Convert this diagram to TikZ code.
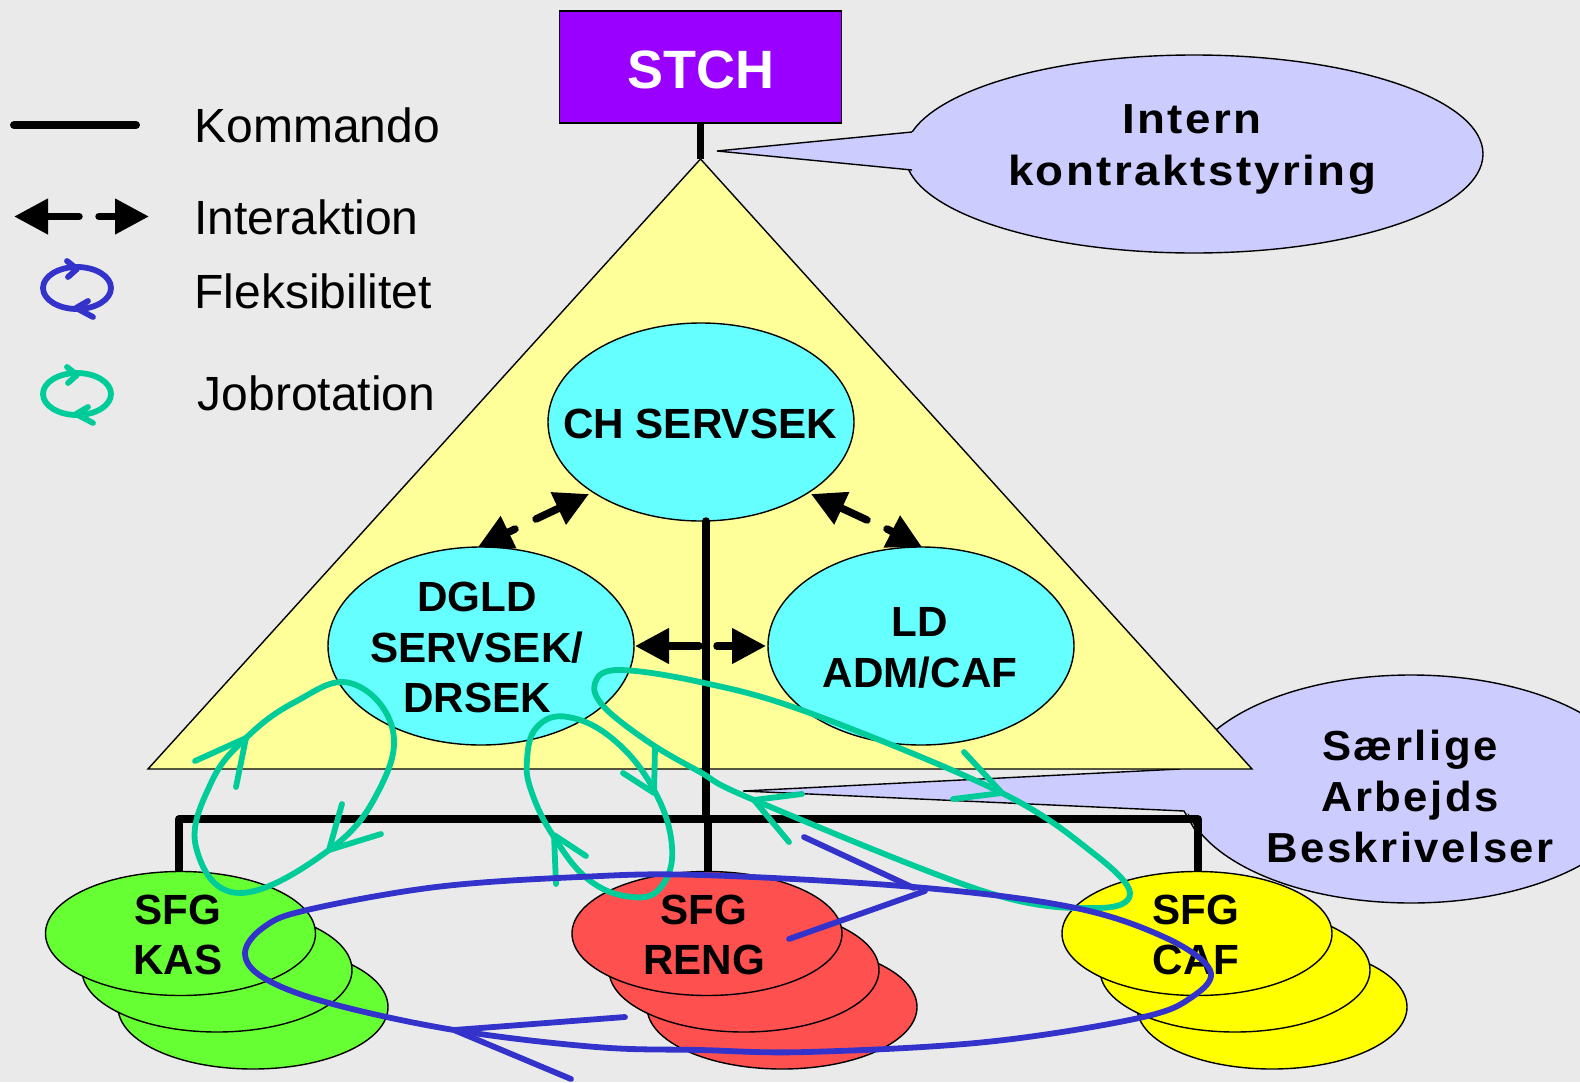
\documentclass[tikz,border=0pt]{standalone}
\usepackage{fontspec}
\setmainfont{Liberation Sans}
\newfontfamily\callfonta[LetterSpace=6,FakeStretch=1.088]{Liberation Sans}
\newfontfamily\callfontb[LetterSpace=6,FakeStretch=1.04]{Liberation Sans}
\usetikzlibrary{shapes.geometric,arrows.meta}
\definecolor{bgc}{HTML}{EAEAEA}
\definecolor{triy}{HTML}{FFFF99}
\definecolor{cyanc}{HTML}{66FFFF}
\definecolor{purp}{HTML}{9900FF}
\definecolor{lav}{HTML}{CCCCFF}
\definecolor{grn}{HTML}{66FF33}
\definecolor{redc}{HTML}{FF5050}
\definecolor{yel}{HTML}{FFFF00}
\definecolor{flex}{HTML}{3333CC}
\definecolor{rot}{HTML}{00CC99}
\tikzset{
 x=0.5pt,y=-0.5pt,
 outl/.style={draw=black,line width=0.7pt},
 ell/.style={ellipse,outl,inner sep=0pt,minimum width=306\pxu,minimum height=198\pxu,fill=cyanc},
 sfg/.style={ellipse,outl,inner sep=0pt,minimum width=270\pxu,minimum height=124\pxu},
 cmd/.style={line width=3.75pt,black},
 inter/.style={line width=3.75pt,line cap=round,black,-{Triangle[sharp,length=17pt,width=17pt]}},
 lbl/.style={font=\fontsize{21.1}{25.2}\selectfont\bfseries,align=center,inner sep=0pt},
 leg/.style={font=\fontsize{24}{28}\selectfont,anchor=base west,inner sep=0pt},
 calla/.style={font=\fontsize{21}{25.7}\selectfont\bfseries\callfonta,align=center,inner sep=0pt},
 callb/.style={font=\fontsize{21}{25.5}\selectfont\bfseries\callfontb,align=center,inner sep=0pt},
 loopl/.style={line width=2.9pt,line cap=round,line join=round},
 legloop/.style={line width=2.9pt,line cap=round,line join=round},
}
\newcommand{\pxu}{*0.5pt}
\begin{document}
\begin{tikzpicture}
\useasboundingbox (0,0) rectangle (1580,1082);
\clip (0,0) rectangle (1580,1082);
\fill[bgc] (0,0) rectangle (1580,1082);

% callout 2 (under the triangle)
\node[ellipse,outl,fill=lav,minimum width=456\pxu,minimum height=228\pxu,inner sep=0pt] (c2) at (1411,789) {};
\coordinate (c2tip) at (743,791);
\fill[lav] (c2tip) -- (1180,769) -- (1240,769) -- (1240,818) -- (1195,818) -- (1184,811) -- cycle;
\draw[outl] (1180,769) -- (c2tip) -- (1184,811) -- (1195,830);

% triangle
\node[draw=none,inner sep=0pt] (apex) at (700.5,159) {};
\filldraw[fill=triy,draw=black,line width=0.7pt,line join=miter] (apex.center) -- (148,769) -- (1252,769) -- cycle;

% callout 1
\node[ellipse,outl,fill=lav,minimum width=578\pxu,minimum height=198\pxu,inner sep=0pt] (c1) at (1194,154) {};
\coordinate (c1tip) at (717,151);
\fill[lav] (c1tip) -- (912,132) -- (930,132) -- (930,170) -- (912,170) -- cycle;
\draw[outl] (912,132) -- (c1tip) -- (912,170);
\node[calla] (c1text) at (1192,149.5) {Intern\\kontraktstyring};

% top box
\node[draw=black,line width=0.7pt,fill=purp,minimum width=141pt,minimum height=56pt,inner sep=0pt] (stch) at (700.5,67) {};
\node[inner sep=0pt,text=white,font=\fontsize{27}{32}\selectfont\bfseries] (stchtext) at (700.5,70) {STCH};
\draw[cmd] (stch.south) -- (apex.center);

% cyan nodes
\node[ell] (ch) at (701,422) {};
\node[ell] (dg) at (481,646) {};
\node[ell] (ld) at (921,646) {};

% interaction arrows
\coordinate (a1) at (536,519); \coordinate (a1t) at (589,494);
\coordinate (a2) at (515,529); \coordinate (a2t) at (478,547);
\coordinate (a3) at (867,520); \coordinate (a3t) at (811,494);
\coordinate (a4) at (887,529); \coordinate (a4t) at (922,547);
\coordinate (a5) at (699,646); \coordinate (a5t) at (635,646);
\coordinate (a6) at (717,646); \coordinate (a6t) at (766,646);
\draw[inter] (a1) -- (a1t);
\draw[inter] (a2) -- (a2t);
\draw[inter] (a3) -- (a3t);
\draw[inter] (a4) -- (a4t);
\draw[inter] (a5) -- (a5t);
\draw[inter] (a6) -- (a6t);

% stacked ellipses
\foreach \n/\c/\xa/\xb/\xc in {k/grn/180.5/217/253,r/redc/707/744/782,f/yel/1197/1235/1272}{
  \node[sfg,fill=\c] (\n3) at (\xc,1007) {};
  \node[sfg,fill=\c] (\n2) at (\xb,970) {};
  \node[sfg,fill=\c] (\n1) at (\xa,933.5) {};
}

% command lines
\coordinate (busl) at (179,819);
\coordinate (busr) at (1198,819);
\coordinate (busm) at (706,819);
\coordinate (busn) at (708,819);
\draw[cmd,line cap=round] (706,521) -- (busm);
\draw[cmd,line join=round] (179,871) -- (busl) -- (busr) -- (1198,871);
\draw[cmd] (busn) -- (708,871);

% texts
\node[lbl] at (700,424) {CH SERVSEK};
\node[lbl] at (477,647.5) {DGLD\\SERVSEK/\\DRSEK};
\node[lbl] at (920,648) {LD\\ADM/CAF};
\node[lbl] at (178,935) {SFG\\KAS};
\node[lbl] at (704,935) {SFG\\RENG};
\node[lbl] at (1196,935) {SFG\\CAF};
\node[callb] at (1410,796) {Særlige\\Arbejds\\Beskrivelser};

% legend
\coordinate (l1) at (14,125); \coordinate (l2) at (136,125);
\draw[line width=4pt,line cap=round] (l1) -- (l2);
\coordinate (l3) at (79,216.5); \coordinate (l3t) at (14,216.5);
\coordinate (l4) at (99,216.5); \coordinate (l4t) at (149,216.5);
\draw[inter] (l3) -- (l3t);
\draw[inter] (l4) -- (l4t);
\node[leg] at (194,142) {Kommando};
\node[leg] at (194,234) {Interaktion};
\node[leg] at (194,308) {Fleksibilitet};
\node[leg] at (197.5,410) {Jobrotation};
\foreach \c/\d in {flex/0,rot/106}{
  \begin{scope}[yshift=-\d*0.5pt]
    \draw[legloop,draw=\c] (77,288) ellipse [x radius=34,y radius=21];
    \draw[legloop,draw=\c] (67,261) -- (77,269) -- (68,277);
    \draw[legloop,draw=\c] (88,301) -- (76,308) -- (93,317);
  \end{scope}
}

% job rotation loops
\draw[loopl,rot] plot[smooth cycle,tension=0.7] coordinates {(246,738) (295,702) (350,683) (392,727) (379,790) (329,850) (239,893) (196,847) (211,783)};
\draw[loopl,rot] (195,761) -- (246,738) -- (236,787);
\draw[loopl,rot] (342,804) -- (329,850) -- (381,834);
\draw[loopl,rot] plot[smooth cycle,tension=0.7] coordinates {(568,717) (614,740) (654,790) (672,847) (661,887) (632,897) (589,880) (554,837) (532,793) (527,760) (537,727)};
\draw[loopl,rot] (586,856) -- (554,835) -- (556,884);
\draw[loopl,rot] (623,773) -- (654,793) -- (655,748);
\draw[loopl,rot] plot[smooth cycle,tension=0.6] coordinates {(595,683) (618,670) (700,682) (807,712) (1000,792) (1093,853) (1130,893) (1096,908) (986,892) (754,800) (700,772) (650,743) (604,707)};
\draw[loopl,rot] (964,752) -- (1002,793) -- (953,799);
\draw[loopl,rot] (802,794) -- (754,800) -- (789,842);

% flexibility loop
\draw[loopl,flex] plot[smooth cycle,tension=0.6] coordinates {(245,953) (264,927) (307,910) (436,887) (579,877) (700,875) (914,887) (1071,907) (1164,937) (1210,970) (1192,997) (1139,1018) (986,1042) (807,1052) (700,1050) (596,1047) (454,1030) (329,1003) (264,978)};
\draw[loopl,flex] (804,837) -- (914,888);
\draw[loopl,flex] (925,891) -- (789,939);
\draw[loopl,flex] (625,1017) -- (454,1030) -- (571,1079);
\end{tikzpicture}
\end{document}
